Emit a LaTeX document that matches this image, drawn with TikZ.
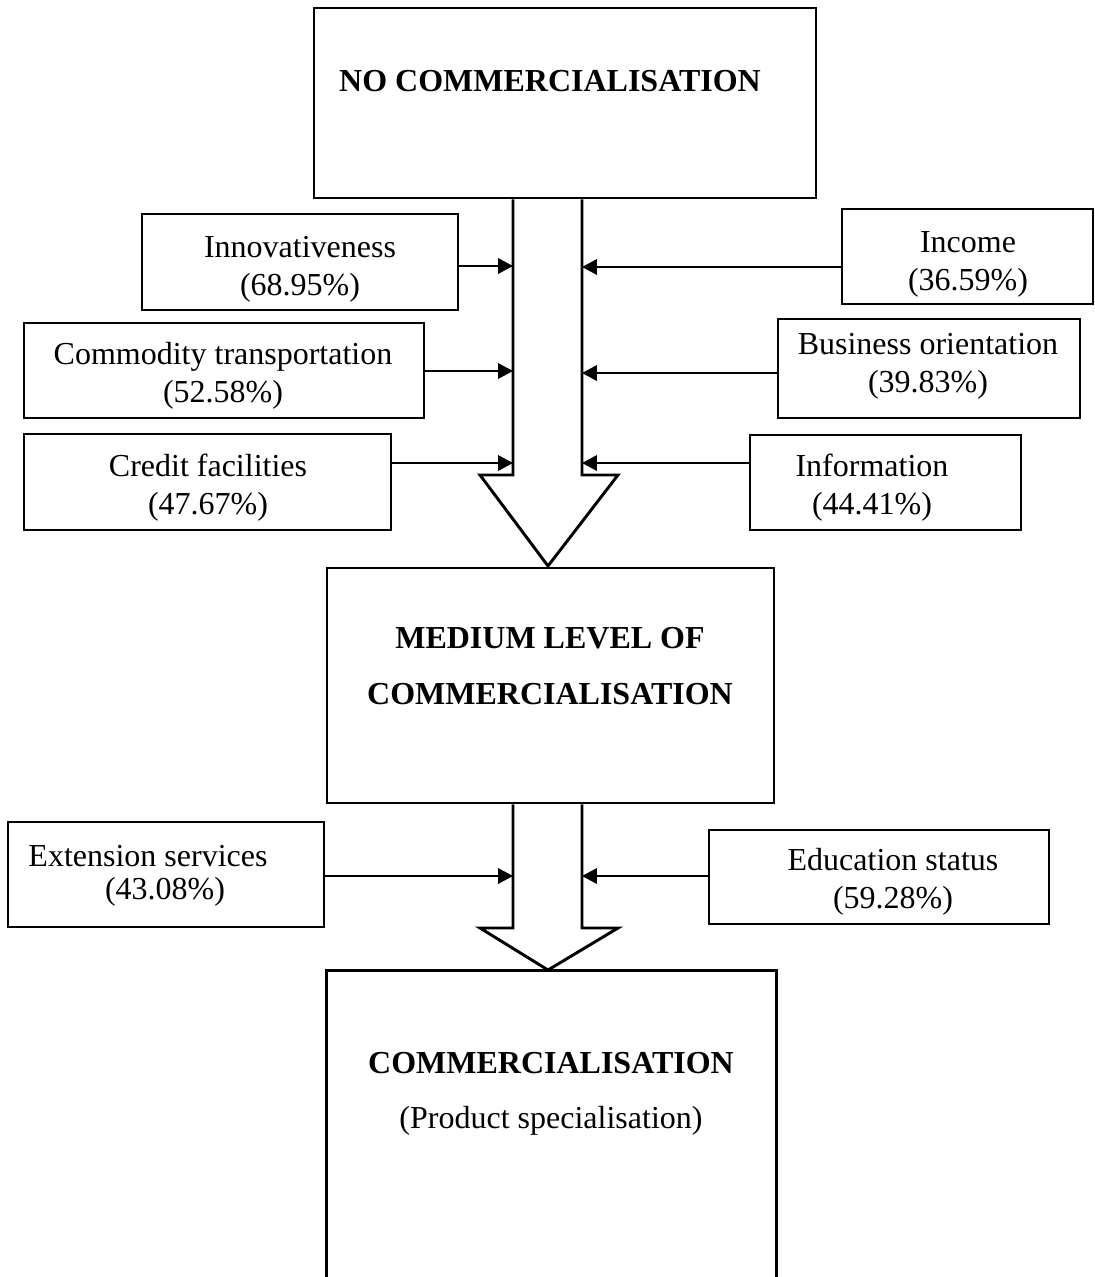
\documentclass[tikz,border=0pt]{standalone}
\usepackage{fontspec}
\setmainfont{Liberation Serif}
\usetikzlibrary{arrows.meta,fit}
\begin{document}
\begin{tikzpicture}[x=0.375pt,y=-0.375pt,
  box/.style={draw, line width=1.1pt, inner sep=0pt},
  txt/.style={inner sep=0pt, align=center, font=\fontsize{12}{14.25}\selectfont},
  head/.style={inner sep=0pt, align=center, font=\fontsize{12}{21}\selectfont\bfseries},
  conn/.style={line width=0.75pt, -{Triangle[length=5.6pt,width=5.8pt]}},
  blk/.style={draw, line width=1.1pt, line join=miter, fill=white}]
\useasboundingbox (0,0) rectangle (1095,1277);

% stages
\node[box, fit={(314,8) (816,198)}] (stage1) {};
\node[box, fit={(327,568) (774,803)}] (stage2) {};
\node[fit={(327,971) (776,1277)}, inner sep=0pt] (stage3) {};
\draw[line width=1.1pt] (stage3.south west) -- (stage3.north west) -- (stage3.north east) -- (stage3.south east);

\node[head] (stage1t) at (550,81) {NO COMMERCIALISATION};
\node[head] (stage2t) at (550,666) {MEDIUM LEVEL OF\\COMMERCIALISATION};
\node[txt] (stage3t) at (551,1094) {{\bfseries COMMERCIALISATION}\\[6.4pt](Product specialisation)};

% block arrows between stages
\draw[blk] (stage1.south -| 513,0) -- (513,475) -- (480,475) -- (548,566)
  -- (618,475) -- (582,475) -- (stage1.south -| 582,0);
\draw[blk] (stage2.south -| 513,0) -- (513,928) -- (480,928) -- (548,970)
  -- (618,928) -- (582,928) -- (stage2.south -| 582,0);

% factors on the left
\node[box, fit={(142,214) (458,310)}] (inn) {};
\node[txt] (innt) at (300,269) {Innovativeness\\(68.95\%)};
\node[box, fit={(24,323) (424,418)}] (com) {};
\node[txt] (comt) at (223,376) {Commodity transportation\\(52.58\%)};
\node[box, fit={(24,434) (391,530)}] (cre) {};
\node[txt] (cret) at (208,488) {Credit facilities\\(47.67\%)};

% factors on the right
\node[box, fit={(842,209) (1093,304)}] (inc) {};
\node[txt] (inct) at (968,264) {Income\\(36.59\%)};
\node[box, fit={(778,319) (1080,418)}] (bus) {};
\node[txt] (bust) at (928,366) {Business orientation\\(39.83\%)};
\node[box, fit={(750,435) (1021,530)}] (inf) {};
\node[txt] (inft) at (872,488) {Information\\(44.41\%)};

% factors of the second step
\node[box, fit={(8,822) (324,927)}] (ext) {};
\node[txt] (extt1) at (148,856) {Extension services};
\node[txt] (extt2) at (165,892) {(43.08\%)};
\node[box, fit={(709,830) (1049,924)}] (edu) {};
\node[txt] (edut) at (893,882) {Education status\\(59.28\%)};

% entry points on the shafts
\coordinate (l1) at (513,266);
\coordinate (l2) at (513,371);
\coordinate (l3) at (513,463);
\coordinate (r1) at (582,267);
\coordinate (r2) at (582,373);
\coordinate (r3) at (582,463);
\coordinate (l4) at (513,876);
\coordinate (r4) at (582,876);

\draw[conn] (inn.east |- l1) -- (l1);
\draw[conn] (com.east |- l2) -- (l2);
\draw[conn] (cre.east |- l3) -- (l3);
\draw[conn] (inc.west |- r1) -- (r1);
\draw[conn] (bus.west |- r2) -- (r2);
\draw[conn] (inf.west |- r3) -- (r3);
\draw[conn] (ext.east |- l4) -- (l4);
\draw[conn] (edu.west |- r4) -- (r4);
\end{tikzpicture}
\end{document}
